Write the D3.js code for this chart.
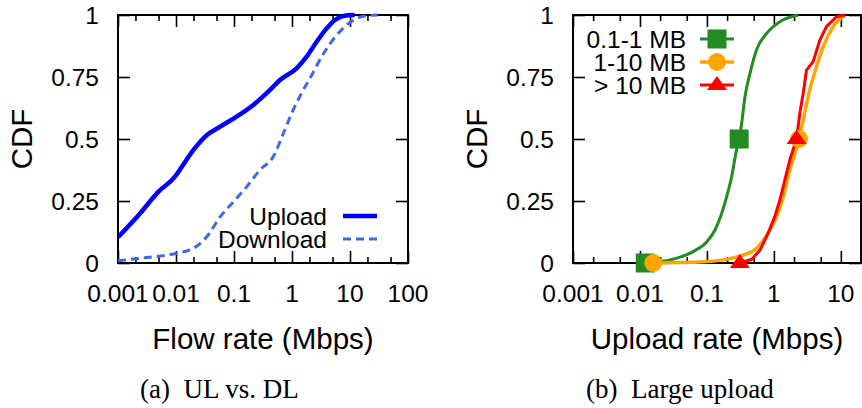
<!DOCTYPE html>
<html><head><meta charset="utf-8">
<script src="https://cdn.jsdelivr.net/npm/d3@7"></script>
<style>
html,body{margin:0;padding:0;background:#fff;}
svg{display:block;}
text{font-family:"Liberation Sans",Arial,Helvetica,sans-serif;fill:#000;}
.cap{font-family:"Liberation Serif","Times New Roman",serif;}
</style></head>
<body>
<svg id="chart" width="862" height="408"></svg>
<script>
// ---------- data ----------
const yTicks = [0, 0.25, 0.5, 0.75, 1];
const yTickLabels = ["0", "0.25", "0.5", "0.75", "1"];
const xTicksA = [0.001, 0.01, 0.1, 1, 10, 100];
const xTickLabelsA = ["0.001", "0.01", "0.1", "1", "10", "100"];
const xTicksB = [0.001, 0.01, 0.1, 1, 10];
const xTickLabelsB = ["0.001", "0.01", "0.1", "1", "10"];
const minorMultipliers = [2, 5];

const seriesNamesA = ["Upload", "Download"];
const uploadCDF = [[0.001,0.104],[0.0024,0.20],[0.005,0.288],[0.0096,0.348],[0.0126,0.388],[0.02,0.456],[0.0316,0.509],[0.058,0.55],[0.111,0.59],[0.215,0.637],[0.418,0.698],[0.62,0.738],[1.2,0.785],[1.79,0.832],[2.66,0.892],[3.96,0.946],[5.5,0.98],[8.0,0.997],[12,1.0]];
const downloadCDF = [[0.001,0.009],[0.0024,0.019],[0.0053,0.028],[0.0103,0.039],[0.0212,0.063],[0.034,0.106],[0.058,0.187],[0.098,0.247],[0.166,0.308],[0.28,0.375],[0.477,0.429],[0.71,0.523],[1.05,0.617],[1.5,0.69],[2.1,0.75],[3.4,0.84],[5.5,0.91],[10,0.97],[17,0.995],[30,1.0]];

const seriesNamesB = ["0.1-1 MB", "1-10 MB", "> 10 MB"];
const smallCDF = [[0.012,0],[0.031,0.015],[0.0625,0.046],[0.1,0.086],[0.132,0.133],[0.166,0.2],[0.197,0.267],[0.234,0.348],[0.277,0.456],[0.303,0.5],[0.33,0.563],[0.37,0.67],[0.44,0.765],[0.55,0.859],[0.78,0.926],[1.23,0.973],[2.3,1.0]];
const mediumCDF = [[0.0158,0],[0.088,0.005],[0.31,0.028],[0.55,0.059],[0.87,0.133],[1.1,0.187],[1.38,0.267],[1.73,0.375],[2.06,0.442],[2.38,0.5],[2.74,0.577],[3.44,0.698],[4.33,0.792],[5.45,0.872],[7.7,0.953],[11.5,1.0]];
const largeCDF = [[0.31,0],[0.47,0.015],[0.62,0.052],[0.82,0.12],[1.03,0.187],[1.23,0.254],[1.46,0.335],[1.73,0.415],[2.18,0.5],[2.44,0.604],[2.74,0.684],[3.07,0.778],[3.86,0.812],[4.86,0.899],[6.1,0.953],[8.6,0.993],[11.5,1.0]];
const smallMarks = [[0.012,0],[0.303,0.5]];
const mediumMarks = [[0.0158,0],[2.38,0.5]];
const largeMarks = [[0.31,0],[2.18,0.5]];

// ---------- layout ----------
const svg = d3.select("#chart");
const TICK_FS = 24.5, TITLE_FS = 29.5;

function panel(opts) {
  const {id, left, right, top, bottom, xDomain, xTicks, xLabels, xTitle} = opts;
  const x = d3.scaleLog().domain(xDomain).range([left, right]);
  const y = d3.scaleLinear().domain([0, 1]).range([bottom, top]);
  const g = svg.append("g");

  const minors = [];
  xTicks.forEach(t => minorMultipliers.forEach(m => {
    const v = t * m;
    if (v > xDomain[0] && v < xDomain[1]) minors.push(v);
  }));
  const majors = xTicks.filter(v => v >= xDomain[0] && v <= xDomain[1]);

  const styleAxis = sel => { sel.select(".domain").remove(); sel.selectAll("text").remove();
    sel.selectAll("line").attr("stroke", "#000").attr("stroke-width", 1.6); };

  g.append("g").attr("transform", `translate(0,${bottom})`)
    .call(d3.axisBottom(x).tickValues(majors).tickSize(-12)).call(styleAxis);
  g.append("g").attr("transform", `translate(0,${bottom})`)
    .call(d3.axisBottom(x).tickValues(minors).tickSize(-6)).call(styleAxis);
  g.append("g").attr("transform", `translate(0,${top})`)
    .call(d3.axisTop(x).tickValues(majors).tickSize(-12)).call(styleAxis);
  g.append("g").attr("transform", `translate(0,${top})`)
    .call(d3.axisTop(x).tickValues(minors).tickSize(-6)).call(styleAxis);
  g.append("g").attr("transform", `translate(${left},0)`)
    .call(d3.axisLeft(y).tickValues(yTicks).tickSize(-12)).call(styleAxis);
  g.append("g").attr("transform", `translate(${right},0)`)
    .call(d3.axisRight(y).tickValues(yTicks).tickSize(-12)).call(styleAxis);

  // tick labels
  g.selectAll(".xl").data(majors).enter().append("text")
    .attr("x", d => x(d)).attr("y", bottom + 39)
    .attr("text-anchor", "middle").style("font-size", TICK_FS + "px")
    .text(d => xLabels[xTicks.indexOf(d)]);
  g.selectAll(".yl").data(yTicks).enter().append("text")
    .attr("x", left - 19).attr("y", d => y(d)).attr("dy", "0.36em")
    .attr("text-anchor", "end").style("font-size", TICK_FS + "px")
    .text((d, i) => yTickLabels[i]);

  // titles
  g.append("text").attr("x", (left + right) / 2).attr("y", bottom + 86)
    .attr("text-anchor", "middle").style("font-size", TITLE_FS + "px").text(xTitle);
  g.append("text").attr("transform", `translate(${left - 86},${(top + bottom) / 2}) rotate(-90)`)
    .attr("text-anchor", "middle").style("font-size", TITLE_FS + "px").text("CDF");

  // clip
  svg.append("clipPath").attr("id", id).append("rect")
    .attr("x", left).attr("y", top - 3).attr("width", right - left).attr("height", bottom - top + 6);
  const plot = svg.append("g").attr("clip-path", `url(#${id})`);

  return {x, y, g, plot, left, right, top, bottom};
}

// ---------- panel (a) ----------
const A = panel({id: "clipA", left: 118, right: 408, top: 15, bottom: 263,
  xDomain: [0.001, 100], xTicks: xTicksA, xLabels: xTickLabelsA, xTitle: "Flow rate (Mbps)"});
const lineA = d3.line().x(d => A.x(d[0])).y(d => A.y(d[1])).curve(d3.curveMonotoneX);
A.plot.append("path").datum(downloadCDF).attr("d", lineA).attr("fill", "none")
  .attr("stroke", "#4169e1").attr("stroke-width", 3).attr("stroke-dasharray", "8,5");
A.plot.append("path").datum(uploadCDF).attr("d", lineA).attr("fill", "none")
  .attr("stroke", "#0000ff").attr("stroke-width", 4.5).attr("stroke-linejoin", "round");

// legend (a)
const legA = [
  {name: seriesNamesA[0], color: "#0000ff", w: 4.5, dash: null},
  {name: seriesNamesA[1], color: "#4169e1", w: 3, dash: "8,5"}
];
legA.forEach((d, i) => {
  const yy = 216 + i * 23;
  A.g.append("text").attr("x", 327).attr("y", yy).attr("dy", "0.36em")
    .attr("text-anchor", "end").style("font-size", TICK_FS + "px").text(d.name);
  A.g.append("line").attr("x1", 343).attr("x2", 377).attr("y1", yy).attr("y2", yy)
    .attr("stroke", d.color).attr("stroke-width", d.w).attr("stroke-dasharray", d.dash);
});
A.g.append("rect").attr("x", A.left).attr("y", A.top).attr("width", A.right - A.left)
  .attr("height", A.bottom - A.top).attr("fill", "none").attr("stroke", "#000").attr("stroke-width", 2);

// ---------- panel (b) ----------
const B = panel({id: "clipB", left: 573, right: 861, top: 15, bottom: 263,
  xDomain: [0.001, 20], xTicks: xTicksB, xLabels: xTickLabelsB, xTitle: "Upload rate (Mbps)"});
const lineB = d3.line().x(d => B.x(d[0])).y(d => B.y(d[1])).curve(d3.curveMonotoneX);
const lineBlin = d3.line().x(d => B.x(d[0])).y(d => B.y(d[1]));

const seriesB = [
  {name: seriesNamesB[0], data: smallCDF, marks: smallMarks, color: "#228b22", shape: "square", w: 3, gen: lineB},
  {name: seriesNamesB[1], data: mediumCDF, marks: mediumMarks, color: "#ffa500", shape: "circle", w: 3.5, gen: lineB},
  {name: seriesNamesB[2], data: largeCDF, marks: largeMarks, color: "#ff0000", shape: "triangle", w: 3, gen: lineBlin}
];

function marker(sel, shape, color) {
  if (shape === "square") sel.append("rect").attr("x", -9.5).attr("y", -9.5).attr("width", 19).attr("height", 19).attr("fill", color);
  else if (shape === "circle") sel.append("circle").attr("r", 9).attr("fill", color);
  else sel.append("path").attr("d", "M0,-9 L10,5 L-10,5 Z").attr("fill", color);
}

seriesB.forEach(s => {
  B.plot.append("path").datum(s.data).attr("d", s.gen).attr("fill", "none")
    .attr("stroke", s.color).attr("stroke-width", s.w).attr("stroke-linejoin", "round");
});
seriesB.forEach(s => {
  s.marks.forEach(m => {
    const mg = svg.append("g").attr("transform", `translate(${B.x(m[0])},${B.y(m[1])})`);
    marker(mg, s.shape, s.color);
  });
});

// legend (b)
seriesB.forEach((s, i) => {
  const yy = 39 + i * 23;
  B.g.append("text").attr("x", 686).attr("y", yy).attr("dy", "0.36em")
    .attr("text-anchor", "end").style("font-size", TICK_FS + "px").text(s.name);
  B.g.append("line").attr("x1", 700).attr("x2", 734).attr("y1", yy).attr("y2", yy)
    .attr("stroke", s.color).attr("stroke-width", s.w);
  const mg = B.g.append("g").attr("transform", `translate(717,${yy})`);
  marker(mg, s.shape, s.color);
});
B.g.append("rect").attr("x", B.left).attr("y", B.top).attr("width", B.right - B.left)
  .attr("height", B.bottom - B.top).attr("fill", "none").attr("stroke", "#000").attr("stroke-width", 2);

// ---------- captions ----------
svg.append("text").attr("class", "cap").attr("x", 140).attr("y", 398)
  .style("font-size", "27px").attr("xml:space", "preserve").text("(a)  UL vs. DL");
svg.append("text").attr("class", "cap").attr("x", 586).attr("y", 398)
  .style("font-size", "27px").attr("xml:space", "preserve").text("(b)  Large upload");
</script>
</body></html>
